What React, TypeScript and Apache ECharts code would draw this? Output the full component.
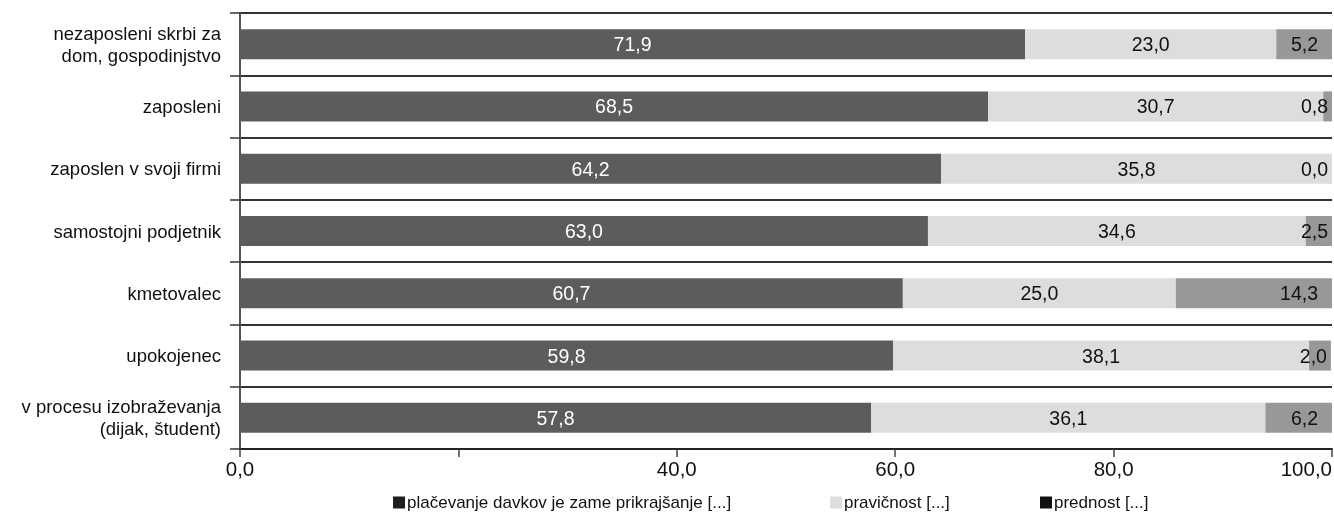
import React, { useEffect, useRef } from "react";
import * as echarts from "echarts";

const categories = [
  "nezaposleni skrbi za\ndom, gospodinjstvo",
  "zaposleni",
  "zaposlen v svoji firmi",
  "samostojni podjetnik",
  "kmetovalec",
  "upokojenec",
  "v procesu izobraževanja\n(dijak, študent)",
];
const seriesNames = [
  "plačevanje davkov je zame prikrajšanje [...]",
  "pravičnost [...]",
  "prednost [...]",
];
const burden = [71.9, 68.5, 64.2, 63.0, 60.7, 59.8, 57.8];
const fairness = [23.0, 30.7, 35.8, 34.6, 25.0, 38.1, 36.1];
const advantage = [5.2, 0.8, 0.0, 2.5, 14.3, 2.0, 6.2];
const xTicks = [0, 20, 40, 60, 80, 100];
const hiddenTickLabels = [20];

const FONT = "'Liberation Sans', Arial, sans-serif";

const fmt = (v: number) => v.toFixed(1).replace(".", ",");

export default function App() {
  const ref = useRef<HTMLDivElement>(null);
  useEffect(() => {
    if (!ref.current) return;
    const chart = echarts.init(ref.current, undefined, { renderer: "svg" });
    const colors = ["#5b5c5e", "#dcdddf", "#97989a"];
    const legendColors = ["#1e1e1e", "#dcdddf", "#111111"];
    const labelBase = {
      show: true,
      fontFamily: FONT,
      fontSize: 19.5,
      formatter: (p: any) => fmt(p.value),
    };
    chart.setOption({
      animation: false,
      grid: {
        left: 240,
        right: 2,
        top: 13,
        bottom: 71,
        containLabel: false,
        outerBoundsMode: "none",
      },
      xAxis: {
        type: "value",
        min: xTicks[0],
        max: xTicks[xTicks.length - 1],
        interval: xTicks[1] - xTicks[0],
        axisLine: { show: true, lineStyle: { color: "#222", width: 2 } },
        axisTick: { show: true, length: 8, lineStyle: { color: "#444", width: 1.5 } },
        splitLine: { show: false },
        axisLabel: {
          fontFamily: FONT,
          fontSize: 20.5,
          color: "#111",
          margin: 9,
          alignMaxLabel: "right",
          formatter: (v: number) => (hiddenTickLabels.includes(v) ? "" : fmt(v)),
        },
      },
      yAxis: {
        type: "category",
        inverse: true,
        data: categories,
        axisLine: { show: true, lineStyle: { color: "#555", width: 2 } },
        axisTick: { show: true, length: 10, lineStyle: { color: "#333", width: 1.5 } },
        splitLine: { show: true, lineStyle: { color: "#333", width: 2 } },
        axisLabel: {
          fontFamily: FONT,
          fontSize: 18.5,
          color: "#111",
          margin: 19,
          lineHeight: 22,
        },
      },
      legend: seriesNames.map((n, i) => ({
        data: [{ name: n, itemStyle: { color: legendColors[i] } }],
        left: [393, 830, 1040][i],
        top: 494,
        itemWidth: 12,
        itemHeight: 12,
        icon: "rect",
        itemGap: 4,
        padding: 0,
        textStyle: { fontFamily: FONT, fontSize: 17, color: "#111", padding: [0, 0, 0, -3] },
      })),
      series: [
        {
          name: seriesNames[0],
          type: "bar",
          stack: "s",
          barWidth: 30,
          data: burden,
          itemStyle: { color: colors[0] },
          label: { ...labelBase, position: "inside", color: "#fff" },
        },
        {
          name: seriesNames[1],
          type: "bar",
          stack: "s",
          barWidth: 30,
          data: fairness,
          itemStyle: { color: colors[1] },
          label: { ...labelBase, position: "inside", color: "#111" },
        },
        {
          name: seriesNames[2],
          type: "bar",
          stack: "s",
          barWidth: 30,
          data: advantage.map((v) => ({
            value: v,
            label: { distance: v < 4 ? 4 : 14 },
          })),
          itemStyle: { color: colors[2] },
          label: { ...labelBase, position: "insideRight", color: "#111" },
        },
      ],
    });
    return () => chart.dispose();
  }, []);
  return (
    <div
      ref={ref}
      style={{ position: "fixed", left: 0, top: 0, width: "1334px", height: "520px" }}
    />
  );
}
